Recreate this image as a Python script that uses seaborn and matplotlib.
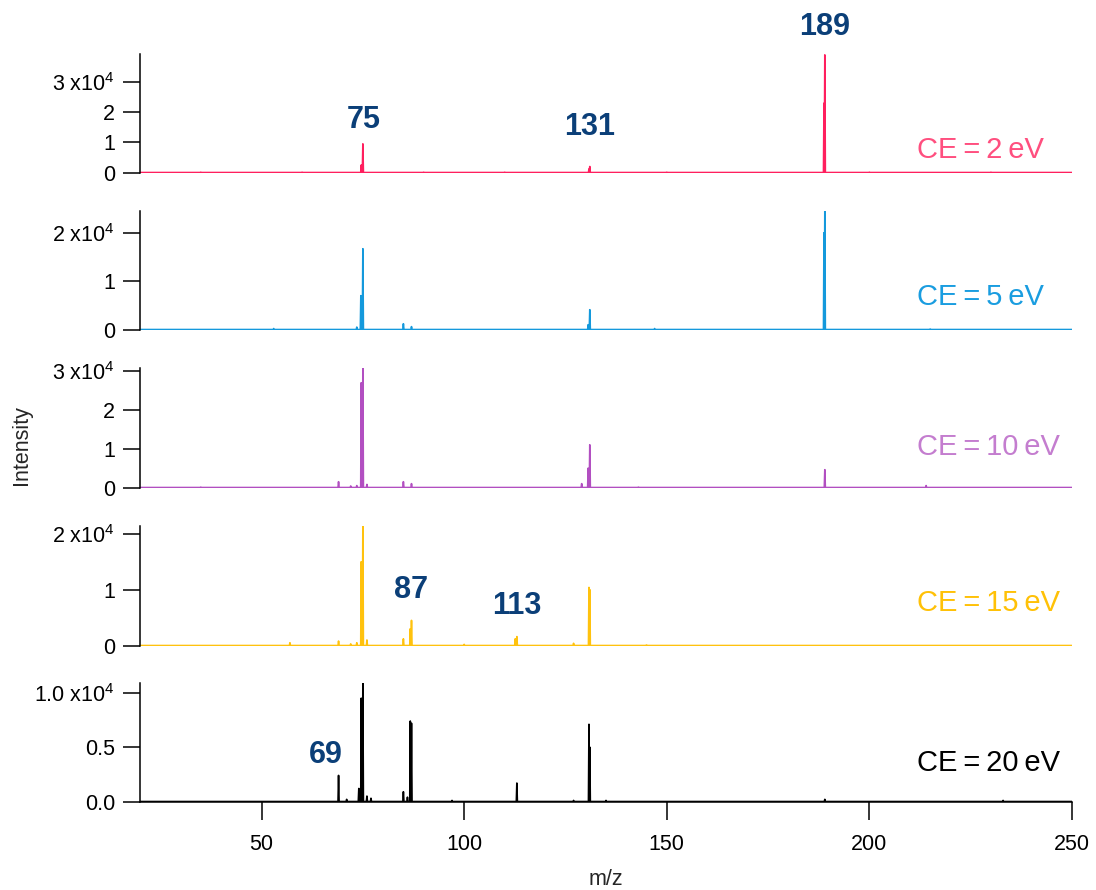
import numpy as np
import pandas as pd
import matplotlib
matplotlib.use("Agg")
import matplotlib.pyplot as plt
import seaborn as sns

sns.set_theme(style="white")
plt.rcParams['font.family'] = ['Liberation Sans', 'DejaVu Sans']
plt.rcParams['mathtext.fontset'] = 'custom'
plt.rcParams['mathtext.rm'] = 'Liberation Sans'

# ---- data (m/z, intensity in units of 1e4) ----
labels = ["CE\u2009=\u20092\u2009eV", "CE\u2009=\u20095\u2009eV", "CE\u2009=\u200910\u2009eV",
          "CE\u2009=\u200915\u2009eV", "CE\u2009=\u200920\u2009eV"]
line_colors = ["#ff1f5e", "#1499dc", "#b24fc1", "#ffc20e", "#000000"]
text_colors = ["#ff4f7f", "#1a9de0", "#c47dcf", "#ffc107", "#000000"]

mz_ce2 = [35, 60, 74.6, 75, 90, 110, 130.8, 131, 150, 188.8, 189, 200, 230]
int_ce2 = [0.01, 0.01, 0.25, 0.95, 0.01, 0.01, 0.12, 0.2, 0.01, 2.3, 3.9, 0.01, 0.01]

mz_ce5 = [53, 73.5, 74.5, 75, 85, 87, 130.6, 131, 147, 188.8, 189, 215]
int_ce5 = [0.02, 0.05, 0.7, 1.67, 0.12, 0.06, 0.1, 0.41, 0.02, 2.0, 2.45, 0.01]

mz_ce10 = [35, 69, 72, 73.5, 74.6, 75, 76, 85, 87, 129, 130.6, 131, 143, 189, 214]
int_ce10 = [0.01, 0.15, 0.04, 0.05, 2.7, 3.08, 0.08, 0.15, 0.1, 0.1, 0.5, 1.1, 0.01, 0.46, 0.05]

mz_ce15 = [57, 69, 72, 73.5, 74.6, 75, 76, 85, 86.7, 87, 100, 112.6, 113, 127, 130.8, 131, 145]
int_ce15 = [0.05, 0.08, 0.03, 0.05, 1.5, 2.14, 0.1, 0.12, 0.3, 0.45, 0.02, 0.12, 0.16, 0.04, 1.04, 1.0, 0.01]

mz_ce20 = [69, 71, 74, 74.6, 75, 76, 77, 85, 86, 86.7, 87, 97, 113, 127, 130.8, 131, 135, 189, 233]
int_ce20 = [0.24, 0.02, 0.12, 0.95, 1.09, 0.05, 0.03, 0.09, 0.04, 0.74, 0.72, 0.01, 0.17, 0.01, 0.71, 0.5, 0.01, 0.02, 0.01]

mz_lists = [mz_ce2, mz_ce5, mz_ce10, mz_ce15, mz_ce20]
int_lists = [int_ce2, int_ce5, int_ce10, int_ce15, int_ce20]

y_tops = [3.93, 2.45, 3.08, 2.14, 1.09]
y_ticks = [[0, 1, 2, 3], [0, 1, 2], [0, 1, 2, 3], [0, 1, 2], [0, 0.5, 1.0]]
y_ticklabels = [["0", "1", "2", "3 x10$^{4}$"],
                ["0", "1", "2 x10$^{4}$"],
                ["0", "1", "2", "3 x10$^{4}$"],
                ["0", "1", "2 x10$^{4}$"],
                ["0.0", "0.5", "1.0 x10$^{4}$"]]
x_ticks = [50, 100, 150, 200, 250]
x_range = (20, 250)

# peak annotations: (panel, m/z, text y position, label)
ann_panel = [0, 0, 0, 3, 3, 4]
ann_x = [75.2, 131, 189, 87, 113, 65.8]
ann_y = [1.75, 1.52, 4.82, 1.0, 0.71, 0.43]
ann_text = ["75", "131", "189", "87", "113", "69"]
ann_color = "#0b3f78"

label_y = [0.07, 0.16, 0.22, 0.24, 0.21]

# ---- figure ----
fig = plt.figure(figsize=(10.96, 8.9), dpi=100)
tops_px = [54, 211, 368, 526, 683]
bots_px = [173, 330, 488, 646, 802]
left, right = 140 / 1096, 1072 / 1096
axes = []
for t, b in zip(tops_px, bots_px):
    ax = fig.add_axes([left, 1 - b / 890, right - left, (b - t) / 890])
    axes.append(ax)

half_w = 0.13
for i, ax in enumerate(axes):
    xs, ys = [x_range[0]], [0.0]
    order = np.argsort(mz_lists[i])
    for j in order:
        m, v = mz_lists[i][j], int_lists[i][j]
        xs += [m - half_w, m, m + half_w]
        ys += [0.0, v, 0.0]
    xs.append(x_range[1]); ys.append(0.0)
    df = pd.DataFrame({"mz": xs, "I": ys})
    sns.lineplot(data=df, x="mz", y="I", ax=ax, color=line_colors[i],
                 linewidth=1.2, sort=False, estimator=None)
    ax.set_xlim(*x_range)
    ax.set_ylim(-0.004 * y_tops[i], y_tops[i])
    ax.set_yticks(y_ticks[i])
    ax.set_yticklabels(y_ticklabels[i])
    ax.set_xlabel("")
    ax.set_ylabel("")
    for s in ["top", "right"]:
        ax.spines[s].set_visible(False)
    ax.spines["left"].set_linewidth(1.1)
    ax.spines["left"].set_color("black")
    ax.tick_params(axis="y", direction="out", length=12, width=1.1,
                   labelsize=15.5, colors="black", left=True, pad=6)
    if i < 4:
        ax.spines["bottom"].set_visible(False)
        ax.set_xticks([])
    else:
        ax.spines["bottom"].set_linewidth(1.1)
        ax.spines["bottom"].set_color("black")
        ax.set_xticks(x_ticks)
        ax.tick_params(axis="x", direction="out", length=13, width=1.1,
                       labelsize=15.5, colors="black", bottom=True, pad=10)
        ax.set_xlabel("m/z", fontsize=15.5, labelpad=10)
    ax.patch.set_alpha(0)
    ax.text(211.7, label_y[i] * y_tops[i], labels[i], color=text_colors[i],
            fontsize=21, ha="left", va="bottom")

for p, x, y, t in zip(ann_panel, ann_x, ann_y, ann_text):
    axes[p].text(x, y, t, color=ann_color, fontsize=22, ha="center",
                 va="center", clip_on=False, fontweight="bold")

fig.text(22 / 1096, 1 - 445 / 890, "Intensity", rotation=90, fontsize=15.5,
         ha="center", va="center")

fig.savefig("out.png", dpi=100)
